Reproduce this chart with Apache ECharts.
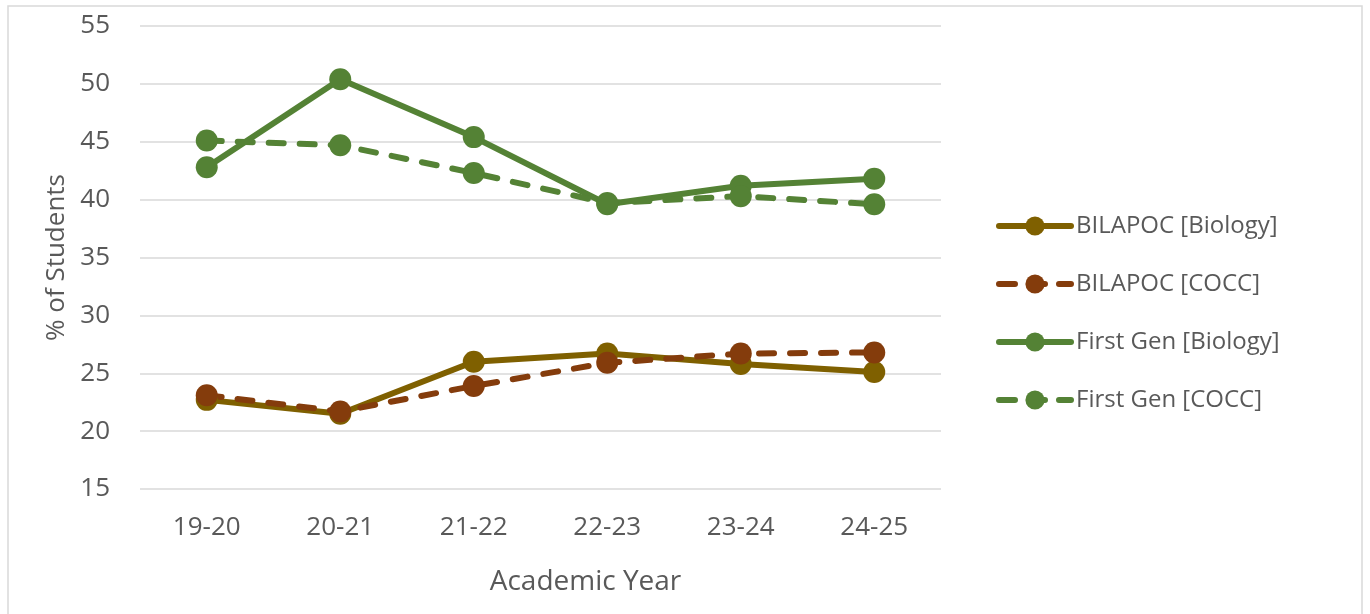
<!DOCTYPE html>
<html>
<head>
<meta charset="utf-8">
<style>
  html, body { margin: 0; padding: 0; background: #ffffff; }
  #chart { width: 1370px; height: 614px; }
</style>
<script src="https://cdn.jsdelivr.net/npm/echarts@6/dist/echarts.min.js"></script>
</head>
<body>
<div id="chart"></div>
<script>
// Academic years on the x axis
const years = ['19-20', '20-21', '21-22', '22-23', '23-24', '24-25'];

// Share of students (%) per year
const bilapocBiology = [22.7, 21.5, 26.0, 26.7, 25.8, 25.1];
const bilapocCocc    = [23.1, 21.7, 23.9, 25.9, 26.7, 26.8];
const firstGenBiology = [42.8, 50.4, 45.4, 39.6, 41.2, 41.8];
const firstGenCocc    = [45.1, 44.7, 42.3, 39.7, 40.3, 39.6];

const seriesNames = ['BILAPOC [Biology]', 'BILAPOC [COCC]', 'First Gen [Biology]', 'First Gen [COCC]'];

const FONT = '"Open Sans", "Noto Sans", sans-serif';
const TEXT = '#595959';
const DASH = [15, 16];

function lineSeries(name, data, color, dashed) {
  return {
    name: name,
    type: 'line',
    data: data,
    symbol: 'circle',
    symbolSize: 22,
    itemStyle: { color: color },
    lineStyle: {
      color: color,
      width: 6,
      type: dashed ? DASH : 'solid',
      cap: 'round',
      join: 'round'
    },
    emphasis: { disabled: true },
    z: 3
  };
}

function legendItem(name, dashed) {
  return {
    name: name,
    lineStyle: { width: 6, type: dashed ? [16, 14] : 'solid', cap: 'round' }
  };
}

const chart = echarts.init(document.getElementById('chart'), null, { renderer: 'canvas' });

chart.setOption({
  animation: false,
  backgroundColor: '#ffffff',
  textStyle: { fontFamily: FONT },
  graphic: [{
    type: 'rect',
    shape: { x: 8, y: 6, width: 1354, height: 640 },
    style: { fill: 'none', stroke: '#d9d9d9', lineWidth: 1.5 },
    silent: true
  }],
  grid: { left: 140, right: 429, top: 26, bottom: 125 },
  legend: {
    orient: 'vertical',
    left: 991,
    top: 209,
    itemWidth: 72,
    itemHeight: 24,
    itemGap: 34,
    textStyle: { color: TEXT, fontSize: 24, fontFamily: FONT },
    data: [
      legendItem(seriesNames[0], false),
      legendItem(seriesNames[1], true),
      legendItem(seriesNames[2], false),
      legendItem(seriesNames[3], true)
    ]
  },
  xAxis: {
    type: 'category',
    data: years,
    boundaryGap: true,
    axisLine: { show: false },
    axisTick: { show: false },
    axisLabel: { color: TEXT, fontSize: 26, margin: 26, fontFamily: FONT },
    name: 'Academic Year',
    nameLocation: 'middle',
    nameGap: 79,
    nameTextStyle: { color: TEXT, fontSize: 28, fontFamily: FONT, padding: [0, 0, 0, 90] }
  },
  yAxis: {
    type: 'value',
    min: 15,
    max: 55,
    interval: 5,
    axisLine: { show: false },
    axisTick: { show: false },
    axisLabel: { color: TEXT, fontSize: 26, margin: 30, fontFamily: FONT },
    splitLine: { lineStyle: { color: '#d9d9d9', width: 1.5 } },
    name: '% of Students',
    nameLocation: 'middle',
    nameGap: 68,
    nameTextStyle: { color: TEXT, fontSize: 26, fontFamily: FONT }
  },
  series: [
    lineSeries(seriesNames[0], bilapocBiology, '#7f6000', false),
    lineSeries(seriesNames[1], bilapocCocc, '#843c0c', true),
    lineSeries(seriesNames[2], firstGenBiology, '#548235', false),
    lineSeries(seriesNames[3], firstGenCocc, '#548235', true)
  ]
});
</script>
</body>
</html>
